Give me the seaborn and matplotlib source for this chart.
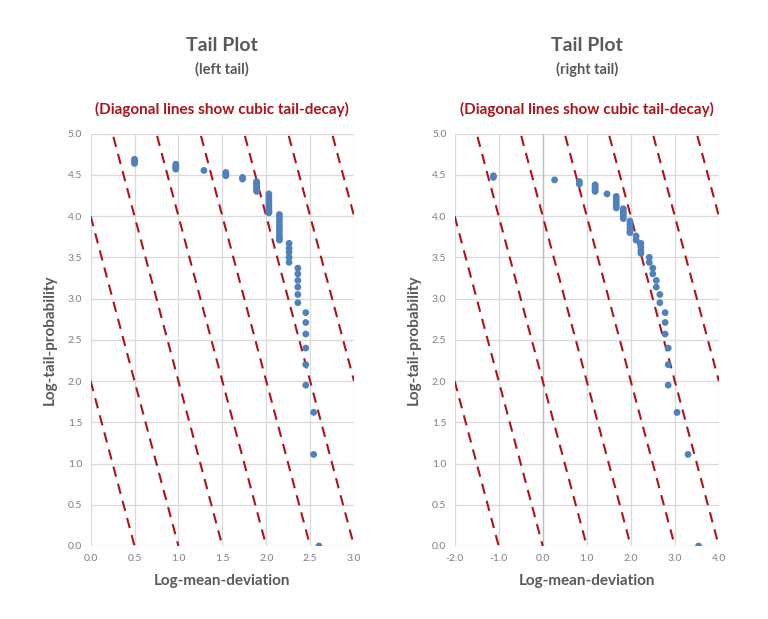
import numpy as np
import pandas as pd
import matplotlib
matplotlib.use("Agg")
import matplotlib.pyplot as plt
import seaborn as sb

# ---- data ----
left_x = [0.50, 0.50, 0.50,
          0.97, 0.97, 0.97, 0.97,
          1.29,
          1.54, 1.54, 1.54,
          1.73, 1.73,
          1.89, 1.89, 1.89, 1.89, 1.89, 1.89, 1.89,
          2.03, 2.03, 2.03, 2.03, 2.03, 2.03, 2.03, 2.03, 2.03,
          2.15, 2.15, 2.15, 2.15, 2.15, 2.15, 2.15, 2.15, 2.15,
          2.26, 2.26, 2.26, 2.26, 2.26,
          2.36, 2.36, 2.36, 2.36, 2.36, 2.36,
          2.45, 2.45, 2.45, 2.45, 2.45, 2.45,
          2.54, 2.54, 2.60]
left_y = [4.69, 4.66, 4.64,
          4.63, 4.61, 4.59, 4.57,
          4.555,
          4.53, 4.51, 4.49,
          4.47, 4.45,
          4.42, 4.40, 4.38, 4.36, 4.34, 4.32, 4.30,
          4.27, 4.24, 4.21, 4.18, 4.15, 4.12, 4.09, 4.06, 4.04,
          4.02, 3.98, 3.94, 3.90, 3.86, 3.82, 3.78, 3.74, 3.71,
          3.67, 3.61, 3.56, 3.50, 3.44,
          3.37, 3.30, 3.22, 3.14, 3.05, 2.95,
          2.83, 2.71, 2.57, 2.40, 2.20, 1.95,
          1.62, 1.11, 0.00]

right_x = [-1.12, -1.12,
           0.27,
           0.83, 0.83,
           1.19, 1.19, 1.19, 1.19, 1.19,
           1.46,
           1.67, 1.67, 1.67, 1.67, 1.67, 1.67,
           1.83, 1.83, 1.83, 1.83, 1.83,
           1.98, 1.98, 1.98, 1.98, 1.98,
           2.12, 2.12,
           2.23, 2.23, 2.23, 2.23,
           2.42, 2.42,
           2.50, 2.50,
           2.58, 2.58,
           2.66, 2.66,
           2.78, 2.78, 2.78,
           2.85, 2.85, 2.85,
           3.05, 3.30, 3.54]
right_y = [4.49, 4.47,
           4.44,
           4.42, 4.39,
           4.38, 4.36, 4.34, 4.32, 4.30,
           4.27,
           4.24, 4.21, 4.18, 4.15, 4.12, 4.10,
           4.09, 4.06, 4.03, 4.00, 3.97,
           3.94, 3.90, 3.86, 3.82, 3.80,
           3.76, 3.71,
           3.67, 3.62, 3.58, 3.55,
           3.50, 3.44,
           3.37, 3.30,
           3.22, 3.14,
           3.05, 2.95,
           2.83, 2.71, 2.57,
           2.40, 2.20, 1.95,
           1.62, 1.11, 0.00]

# diagonal reference lines: y = c + slope * x
left_intercepts = [2, 4, 6, 8, 10, 12, 14, 16]
left_slope = -4
right_intercepts = [-2, 0, 2, 4, 6, 8, 10, 12]
right_slope = -2

left_xlim = (0.0, 3.0)
right_xlim = (-2.0, 4.0)
ylim = (0.0, 5.0)

GRAY = "#595959"
TICKGRAY = "#7F7F7F"
RED = "#B0121B"
BLUE = "#4F81BD"


def draw_panel(ax, xs, ys, intercepts, slope, xlim, subtitle):
    for c in intercepts:
        lx = np.array(xlim)
        ax.plot(lx, c + slope * lx, color=RED, lw=1.5, dashes=(5, 3.5), zorder=2)
    df = pd.DataFrame({"x": xs, "y": ys})
    sb.scatterplot(data=df, x="x", y="y", ax=ax, color=BLUE, s=24,
                   edgecolor="none", zorder=3)
    ax.set_xlim(*xlim)
    ax.set_ylim(*ylim)
    ax.set_xticks(np.arange(xlim[0], xlim[1] + 0.01, 0.5 if xlim[1] - xlim[0] <= 3 else 1.0))
    ax.set_yticks(np.arange(0, 5.01, 0.5))
    ax.xaxis.set_major_formatter(matplotlib.ticker.FormatStrFormatter("%.1f"))
    ax.yaxis.set_major_formatter(matplotlib.ticker.FormatStrFormatter("%.1f"))
    ax.grid(True, color="#D9D9D9", lw=0.9)
    ax.set_axisbelow(True)
    for s in ax.spines.values():
        s.set_visible(False)
    ax.tick_params(length=0, labelsize=7.5, labelcolor=TICKGRAY, pad=6)
    if xlim[0] < 0:
        ax.axvline(0, color="#BFBFBF", lw=1.0, zorder=1)
    ax.set_xlabel("Log-mean-deviation", fontsize=11, fontweight="bold",
                  color=GRAY, labelpad=8)
    ax.set_ylabel("Log-tail-probability", fontsize=11, fontweight="bold",
                  color=GRAY, labelpad=8)
    ax.text(0.5, 1.215, "Tail Plot", transform=ax.transAxes, ha="center",
            va="center", fontsize=14, fontweight="bold", color=GRAY)
    ax.text(0.5, 1.155, subtitle, transform=ax.transAxes, ha="center",
            va="center", fontsize=10.5, fontweight="bold", color=GRAY)
    ax.text(0.5, 1.06, "(Diagonal lines show cubic tail-decay)",
            transform=ax.transAxes, ha="center", va="center", fontsize=11,
            fontweight="bold", color=RED)


def main():
    sb.set_style("white")
    plt.rcParams["font.family"] = ["Lato", "DejaVu Sans"]

    fig = plt.figure(figsize=(7.68, 6.19), dpi=100)
    ax1 = fig.add_axes([0.118, 0.118, 0.343, 0.666])
    ax2 = fig.add_axes([0.592, 0.118, 0.344, 0.666])

    draw_panel(ax1, left_x, left_y, left_intercepts, left_slope, left_xlim, "(left tail)")
    draw_panel(ax2, right_x, right_y, right_intercepts, right_slope, right_xlim, "(right tail)")

    fig.savefig("out.png", dpi=100, facecolor="white")
    plt.close(fig)


if __name__ == "__main__":
    main()
